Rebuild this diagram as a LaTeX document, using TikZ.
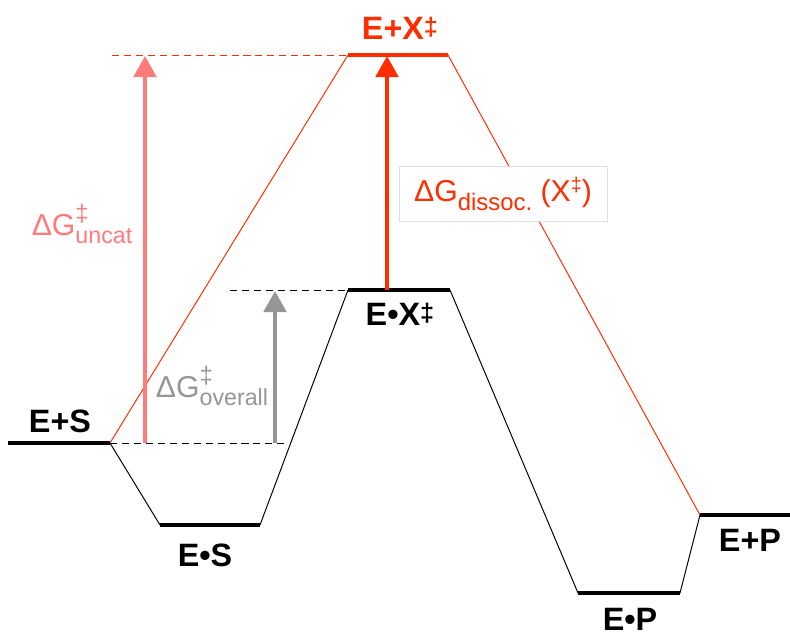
\documentclass[tikz,border=0pt]{standalone}
\usepackage{fontspec}
\setmainfont{Liberation Sans}
\usetikzlibrary{arrows.meta}
\definecolor{tsred}{RGB}{255,45,0}
\definecolor{uncatpink}{RGB}{255,122,122}
\definecolor{overgray}{RGB}{150,150,150}
\newcommand{\dGsupsub}[1]{ΔG\rlap{\raisebox{0.45em}{\fontsize{17}{17}\selectfont ‡}}\raisebox{-0.28em}{\fontsize{16.5}{16}\selectfont #1}}
\newcommand{\dGsubonly}[1]{ΔG\raisebox{-0.28em}{\fontsize{17}{17}\selectfont #1}}
\newcommand{\dagmark}{\raisebox{0.1em}{\fontsize{18}{18}\selectfont ‡}}
\newcommand{\dagsup}{\raisebox{0.33em}{\fontsize{14}{14}\selectfont ‡}}
\tikzset{
  level/.style={line width=2.8pt},
  route/.style={line width=0.7pt},
  guide/.style={line width=0.7pt, dash pattern=on 5pt off 3.5pt},
  statelab/.style={font=\fontsize{23}{26}\selectfont\bfseries},
  dglab/.style={font=\fontsize{21.5}{24}\selectfont},
  barrier/.style={line width=2.8pt, -{Triangle[length=15pt,width=16pt]}},
}
\begin{document}
\begin{tikzpicture}[x=0.025cm, y=-0.025cm]
\useasboundingbox (0,0) rectangle (790,633);
% level end points
\coordinate (esL) at (8,443);   \coordinate (esR) at (110,443);
\coordinate (cesL) at (160,525); \coordinate (cesR) at (260,525);
\coordinate (cxL) at (348,290);  \coordinate (cxR) at (450,290);
\coordinate (cpL) at (578,593);  \coordinate (cpR) at (680,593);
\coordinate (epL) at (700,515);  \coordinate (epR) at (790,515);
\coordinate (exL) at (348,55);   \coordinate (exR) at (448,55);
% guide ends and arrow feet
\coordinate (topg) at (112,55);
\coordinate (midg) at (230,290);
\coordinate (lowg) at (285,443);
\coordinate (uncatfoot) at (145,443); \coordinate (uncattip) at (145,56);
\coordinate (overfoot) at (275,443);  \coordinate (overtip) at (275,291);
\coordinate (dissfoot) at (387,290);  \coordinate (disstip) at (387,56);
% uncatalysed route
\draw[route, tsred] (esR) -- (exL);
\draw[route, tsred] (exR) -- (epL);
\draw[level, tsred] (exL) -- (exR);
% catalysed route
\draw[route] (esR) -- (cesL);
\draw[route] (cesR) -- (cxL);
\draw[route] (cxR) -- (cpL);
\draw[route] (cpR) -- (epL);
\foreach \a/\b in {esL/esR, cesL/cesR, cxL/cxR, cpL/cpR, epL/epR}
  \draw[level] (\a) -- (\b);
% guides
\draw[guide, tsred] (topg) -- (exL);
\draw[guide] (midg) -- (cxL);
\draw[guide] (esR) -- (lowg);
% barriers
\draw[barrier, uncatpink] (uncatfoot) -- (uncattip);
\draw[barrier, overgray] (overfoot) -- (overtip);
\draw[barrier, tsred] (dissfoot) -- (disstip);
% state labels
\node[statelab] (es) at (60,421) {E+S};
\node[statelab] (ces) at (205,555) {E•S};
\node[statelab] (cx) at (400,314) {E•X\dagmark};
\node[statelab] (cp) at (630,619) {E•P};
\node[statelab] (ep) at (750,540) {E+P};
\node[statelab, tsred] (ex) at (400,28) {E+X\dagmark};
% barrier labels
\node[dglab, uncatpink] (uncat) at (82,224) {\dGsupsub{uncat}};
\node[dglab, overgray] (over) at (212,386) {\dGsupsub{overall}};
\node[dglab, tsred, draw=black!12, fill=white, line width=0.5pt,
  minimum width=5.2cm, minimum height=1.375cm] (diss) at (503,194)
  {\dGsubonly{dissoc.} (X\dagsup)};
\end{tikzpicture}
\end{document}
